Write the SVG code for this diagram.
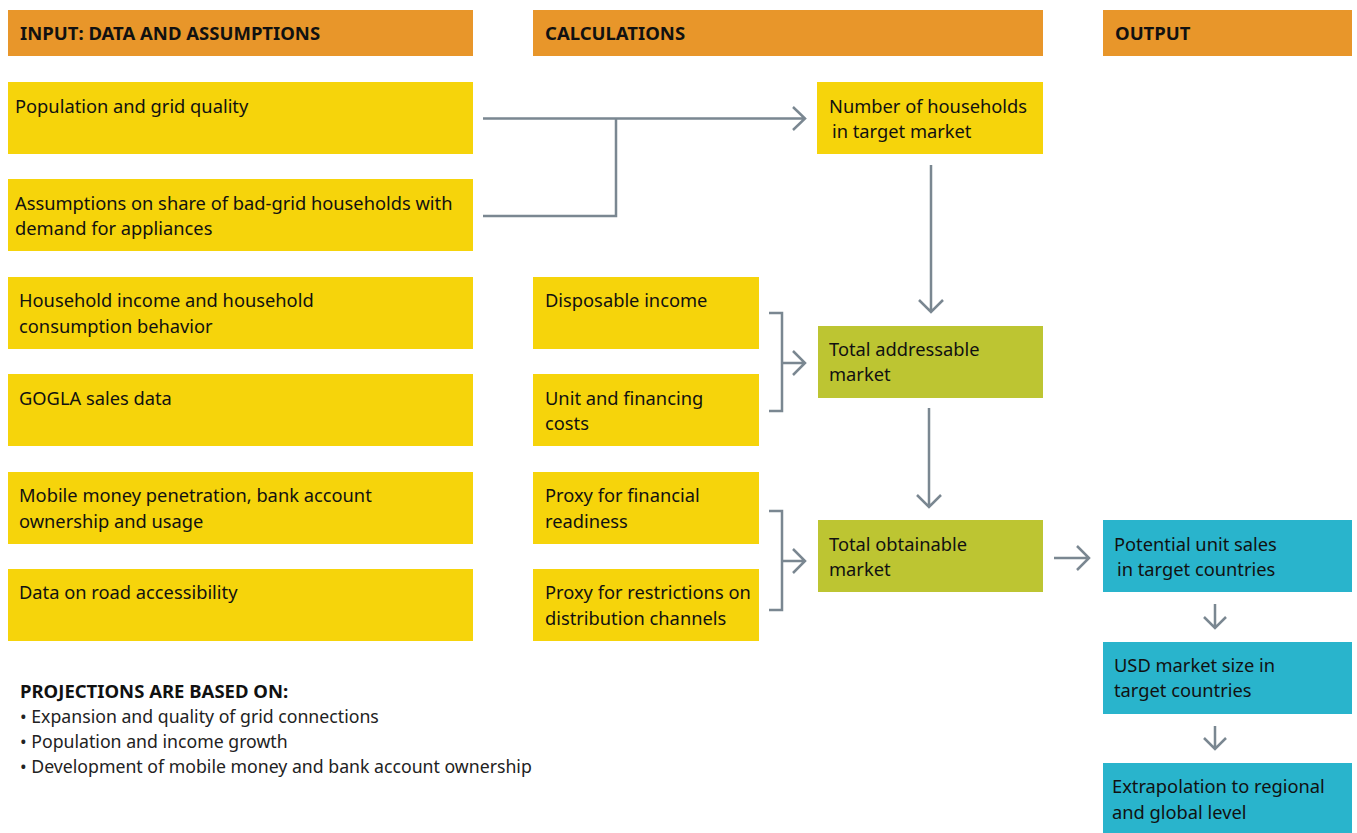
<svg xmlns="http://www.w3.org/2000/svg" width="1357" height="833" viewBox="0 0 1357 833">
<style>
.hdr{fill:#E8962A}
.y{fill:#F6D40B}
.g{fill:#BDC532}
.t{fill:#29B4CC}
text{font-family:"Noto Sans","Open Sans",sans-serif;font-size:18.3px;fill:#111}
.h{font-weight:bold;font-size:18.5px}
.f{font-size:17.7px;fill:#222}
.c{fill:none;stroke:#7A8791;stroke-width:2.5}
</style>
<rect width="1357" height="833" fill="#fff"/>
<g id="headers">
<rect class="hdr" x="8" y="10" width="465" height="46"/>
<text class="h" x="20" y="40">INPUT: DATA AND ASSUMPTIONS</text>
<rect class="hdr" x="533" y="10" width="510" height="46"/>
<text class="h" x="545" y="40">CALCULATIONS</text>
<rect class="hdr" x="1103" y="10" width="249" height="46"/>
<text class="h" x="1115" y="40">OUTPUT</text>
</g>
<g id="in1"><rect class="y" x="8" y="82" width="465" height="72"/><text x="15" y="113">Population and grid quality</text></g>
<g id="in2"><rect class="y" x="8" y="179" width="465" height="72"/><text x="15" y="210">Assumptions on share of bad-grid households with</text><text x="15" y="235">demand for appliances</text></g>
<g id="in3"><rect class="y" x="8" y="277" width="465" height="72"/><text x="19" y="307">Household income and household</text><text x="19" y="333">consumption behavior</text></g>
<g id="in4"><rect class="y" x="8" y="374" width="465" height="72"/><text x="19" y="405">GOGLA sales data</text></g>
<g id="in5"><rect class="y" x="8" y="472" width="465" height="72"/><text x="19" y="502">Mobile money penetration, bank account</text><text x="19" y="528">ownership and usage</text></g>
<g id="in6"><rect class="y" x="8" y="569" width="465" height="72"/><text x="19" y="599">Data on road accessibility</text></g>
<g id="c1"><rect class="y" x="533" y="277" width="226" height="72"/><text x="545" y="307">Disposable income</text></g>
<g id="c2"><rect class="y" x="533" y="374" width="226" height="72"/><text x="545" y="405">Unit and financing</text><text x="545" y="430">costs</text></g>
<g id="c3"><rect class="y" x="533" y="472" width="226" height="72"/><text x="545" y="502">Proxy for financial</text><text x="545" y="528">readiness</text></g>
<g id="c4"><rect class="y" x="533" y="569" width="226" height="72"/><text x="545" y="599">Proxy for restrictions on</text><text x="545" y="625">distribution channels</text></g>
<g id="households"><rect class="y" x="817" y="82" width="226" height="72"/><text x="829" y="113">Number of households</text><text x="832" y="138">in target market</text></g>
<g id="tam"><rect class="g" x="818" y="326" width="225" height="72"/><text x="829" y="356">Total addressable</text><text x="829" y="381">market</text></g>
<g id="tom"><rect class="g" x="818" y="520" width="225" height="72"/><text x="829" y="551">Total obtainable</text><text x="829" y="576">market</text></g>
<g id="o1"><rect class="t" x="1103" y="520" width="249" height="72"/><text x="1114" y="551">Potential unit sales</text><text x="1117" y="576">in target countries</text></g>
<g id="o2"><rect class="t" x="1103" y="642" width="249" height="72"/><text x="1114" y="672">USD market size in</text><text x="1114" y="697">target countries</text></g>
<g id="o3"><rect class="t" x="1103" y="763" width="249" height="70"/><text x="1112" y="793">Extrapolation to regional</text><text x="1112" y="819">and global level</text></g>
<g id="connectors">
<path class="c" d="M483 118.5H805M793 107L805 118.5L793 130"/>
<path class="c" d="M483 216H616V118.5"/>
<path class="c" d="M931 165V312M919 300L931 312L943 300"/>
<path class="c" d="M769 313H782V411H769M782 363H805M793 351L805 363L793 375"/>
<path class="c" d="M929 408V507M917 495L929 507L941 495"/>
<path class="c" d="M769 511H782V610H769M782 561H805M793 549L805 561L793 573"/>
<path class="c" d="M1054 558H1089M1077 546L1089 558L1077 570"/>
<path class="c" d="M1215 604V628M1204 617L1215 628L1226 617"/>
<path class="c" d="M1215 726V749M1204 738L1215 749L1226 738"/>
</g>
<g id="notes">
<text class="h" x="20" y="698">PROJECTIONS ARE BASED ON:</text>
<text class="f" x="20" y="723">• Expansion and quality of grid connections</text>
<text class="f" x="20" y="748">• Population and income growth</text>
<text class="f" x="20" y="773">• Development of mobile money and bank account ownership</text>
</g>
</svg>
